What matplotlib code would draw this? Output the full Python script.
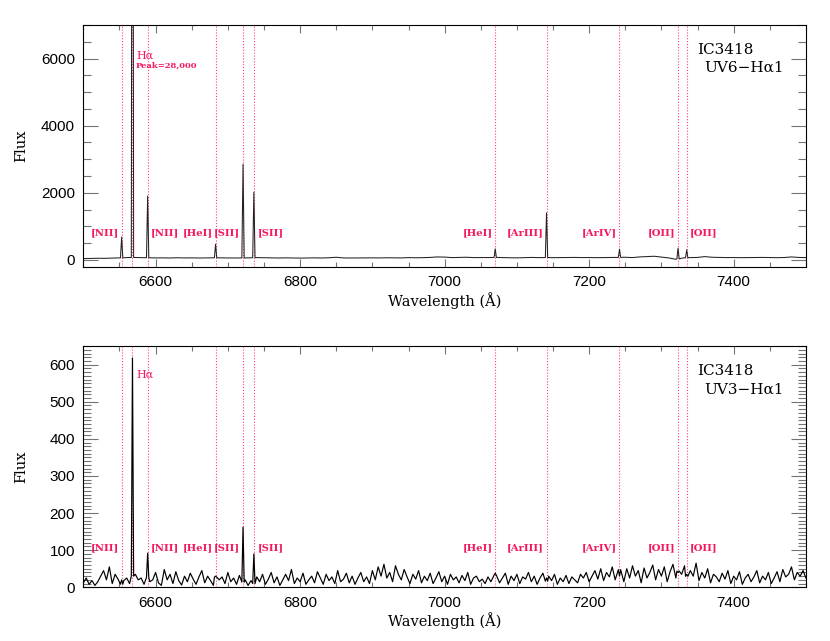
import numpy as np
import matplotlib.pyplot as plt
from matplotlib.ticker import MultipleLocator

# continuum samples
wave_top = np.arange(6500, 7501, 10)
cont_top = [40, 45, 50, 48, 55, 60, 70, 75, 70, 65,
            60, 62, 58, 65, 60, 62, 58, 60, 65, 62,
            60, 58, 60, 62, 70, 65, 60, 58, 62, 60,
            55, 60, 62, 58, 65, 80, 60, 58, 60, 65,
            62, 60, 65, 62, 60, 70, 65, 68, 75, 90,
            85, 70, 75, 80, 70, 72, 70, 75, 70, 65,
            62, 70, 75, 70, 72, 68, 70, 72, 75, 70,
            72, 68, 70, 72, 75, 80, 70, 90, 100, 110,
            85, 60, 20, 60, 70, 75, 100, 80, 75, 70,
            72, 68, 70, 72, 75, 70, 68, 72, 90, 75,
            70]

wave_bot = np.arange(6500, 7501, 4)
cont_bot = [12, 25, 8, 18, 5, 15, 30, 45, 20, 55,
            10, 35, 22, 5, 18, 25, 10, 30, 35, 20,
            25, 8, 30, 15, 20, 40, 12, 5, 48, 20,
            35, 10, 42, 18, 6, 30, 15, 38, 22, 8,
            28, 45, 12, 30, 18, 5, 35, 20, 28, 10,
            40, 15, 25, 8, 32, 12, 20, 5, 18, 10,
            28, 15, 35, 8, 22, 40, 12, 28, 5, 20,
            35, 18, 48, 10, 25, 15, 38, 8, 20, 30,
            12, 42, 25, 8, 35, 18, 28, 10, 45, 15,
            22, 38, 12, 30, 8, 25, 40, 15, 28, 10,
            45, 20, 55, 30, 62, 25, 40, 15, 58, 35,
            20, 48, 28, 10, 35, 22, 45, 12, 30, 18,
            38, 10, 25, 42, 15, 30, 8, 35, 20, 28,
            12, 32, 18, 40, 8, 25, 30, 15, 22, 10,
            28, 15, 35, 30, 12, 25, 38, 8, 30, 18,
            35, 10, 28, 22, 40, 15, 30, 8, 25, 38,
            12, 30, 18, 35, 8, 25, 15, 32, 10, 28,
            20, 12, 35, 25, 40, 15, 30, 45, 22, 50,
            18, 40, 28, 55, 20, 60, 35, 15, 50, 25,
            58, 30, 45, 12, 52, 25, 40, 60, 20, 48,
            30, 55, 15, 42, 62, 25, 50, 35, 58, 20,
            45, 30, 65, 18, 40, 25, 50, 12, 35, 28,
            15, 38, 22, 45, 10, 30, 20, 42, 8, 25,
            35, 15, 28, 45, 12, 30, 20, 40, 10, 25,
            42, 15, 48, 28, 35, 55, 20, 40, 30, 45,
            25]

# emission lines: observed wavelength, peak flux in each spectrum
line_wave = [6553, 6568, 6589, 6683, 6721, 6736, 7070, 7141, 7242, 7323, 7335]
line_name = ["[NII]", "H\u03b1", "[NII]", "[HeI]", "[SII]", "[SII]",
             "[HeI]", "[ArIII]", "[ArIV]", "[OII]", "[OII]"]
label_side = ["l", None, "r", "l", "l", "r", "l", "l", "l", "l", "r"]
peak_top = [680, 28000, 1900, 470, 2850, 2020, 330, 1400, 320, 350, 300]
peak_bot = [20, 618, 92, 30, 162, 90, 38, 25, 30, 40, 35]

PINK = "#ff3c78"
LABEL_RED = "#f5185c"


def build_spectrum(wave, cont, peaks):
    """Continuum samples plus a narrow triangle for each line."""
    wave = np.asarray(wave, float)
    cont = np.asarray(cont, float)
    keep = np.ones(len(wave), bool)
    for lw in line_wave:
        keep &= np.abs(wave - lw) > 2.5
    w, f = list(wave[keep]), list(cont[keep])
    for lw, pk in zip(line_wave, peaks):
        base = np.interp(lw, wave, cont)
        w += [lw - 1.6, lw, lw + 1.6]
        f += [base, pk, base]
    order = np.argsort(w)
    return np.array(w)[order], np.array(f)[order]


def style_axis(ax, ylim, ymajor, yminor, ymaj_len):
    ax.set_xlim(6500, 7500)
    ax.set_ylim(*ylim)
    ax.xaxis.set_major_locator(MultipleLocator(200))
    ax.xaxis.set_minor_locator(MultipleLocator(50))
    ax.yaxis.set_major_locator(MultipleLocator(ymajor))
    ax.yaxis.set_minor_locator(MultipleLocator(yminor))
    ax.tick_params(which="both", direction="in", top=True, right=True,
                   color="0.45", labelsize=11, pad=6)
    ax.tick_params(axis="x", which="major", length=6, width=0.8)
    ax.tick_params(axis="x", which="minor", length=3.5, width=0.8)
    ax.tick_params(axis="y", which="major", length=ymaj_len, width=0.8)
    ax.tick_params(axis="y", which="minor", length=ymaj_len * 0.55, width=0.8)
    for lab in ax.get_xticklabels() + ax.get_yticklabels():
        lab.set_family("Liberation Sans")
    for sp in ax.spines.values():
        sp.set_linewidth(0.8)
    ax.set_xlabel("Wavelength (\u00c5)", family="DejaVu Serif", fontsize=10.5)
    ax.set_ylabel("Flux", family="DejaVu Serif", fontsize=10.5)
    ax.yaxis.set_label_coords(-0.076, 0.5)
    ax.xaxis.set_label_coords(0.5, -0.105)


def add_lines(ax, ylab):
    for lw, name, side in zip(line_wave, line_name, label_side):
        ax.axvline(lw, color=PINK, lw=0.8, ls=(0, (1, 1.6)), zorder=1)
        if side is None:
            continue
        if side == "l":
            ax.annotate(name, (lw, ylab), xytext=(-2, 0), textcoords="offset points",
                        ha="right", va="center", color=LABEL_RED,
                        family="DejaVu Serif", fontsize=7.2, fontweight="bold")
        else:
            ax.annotate(name, (lw, ylab), xytext=(2.5, 0), textcoords="offset points",
                        ha="left", va="center", color=LABEL_RED,
                        family="DejaVu Serif", fontsize=7.2, fontweight="bold")


fig = plt.figure(figsize=(8.3, 6.41), dpi=100)
ax1 = fig.add_axes([0.1004, 0.584, 0.8706, 0.377])
ax2 = fig.add_axes([0.1004, 0.0838, 0.8706, 0.3762])

w1, f1 = build_spectrum(wave_top, cont_top, peak_top)
ax1.plot(w1, f1, color="#222222", lw=0.75, zorder=2)
style_axis(ax1, (-200, 7000), 2000, 500, 11)
add_lines(ax1, 800)
ax1.annotate("H\u03b1", (6568, 6080), xytext=(2.5, 0), textcoords="offset points",
             ha="left", va="center", color=LABEL_RED, family="DejaVu Serif", fontsize=8)
ax1.annotate("Peak=28,000", (6568, 5790), xytext=(2.5, 0), textcoords="offset points",
             ha="left", va="center", color=LABEL_RED, family="DejaVu Serif",
             fontsize=6, fontweight="bold")
ax1.text(0.849, 0.897, "IC3418", transform=ax1.transAxes, family="DejaVu Serif",
         fontsize=11, va="center")
ax1.text(0.86, 0.822, "UV6\u2212H\u03b11", transform=ax1.transAxes, family="DejaVu Serif",
         fontsize=11, va="center")

w2, f2 = build_spectrum(wave_bot, cont_bot, peak_bot)
ax2.plot(w2, f2, color="black", lw=0.85, zorder=2)
style_axis(ax2, (0, 650), 100, 10, 11)
add_lines(ax2, 106)
ax2.annotate("H\u03b1", (6568, 572), xytext=(2.5, 0), textcoords="offset points",
             ha="left", va="center", color=LABEL_RED, family="DejaVu Serif", fontsize=8)
ax2.text(0.849, 0.896, "IC3418", transform=ax2.transAxes, family="DejaVu Serif",
         fontsize=11, va="center")
ax2.text(0.86, 0.818, "UV3\u2212H\u03b11", transform=ax2.transAxes, family="DejaVu Serif",
         fontsize=11, va="center")

fig.savefig("out.png", dpi=100)
